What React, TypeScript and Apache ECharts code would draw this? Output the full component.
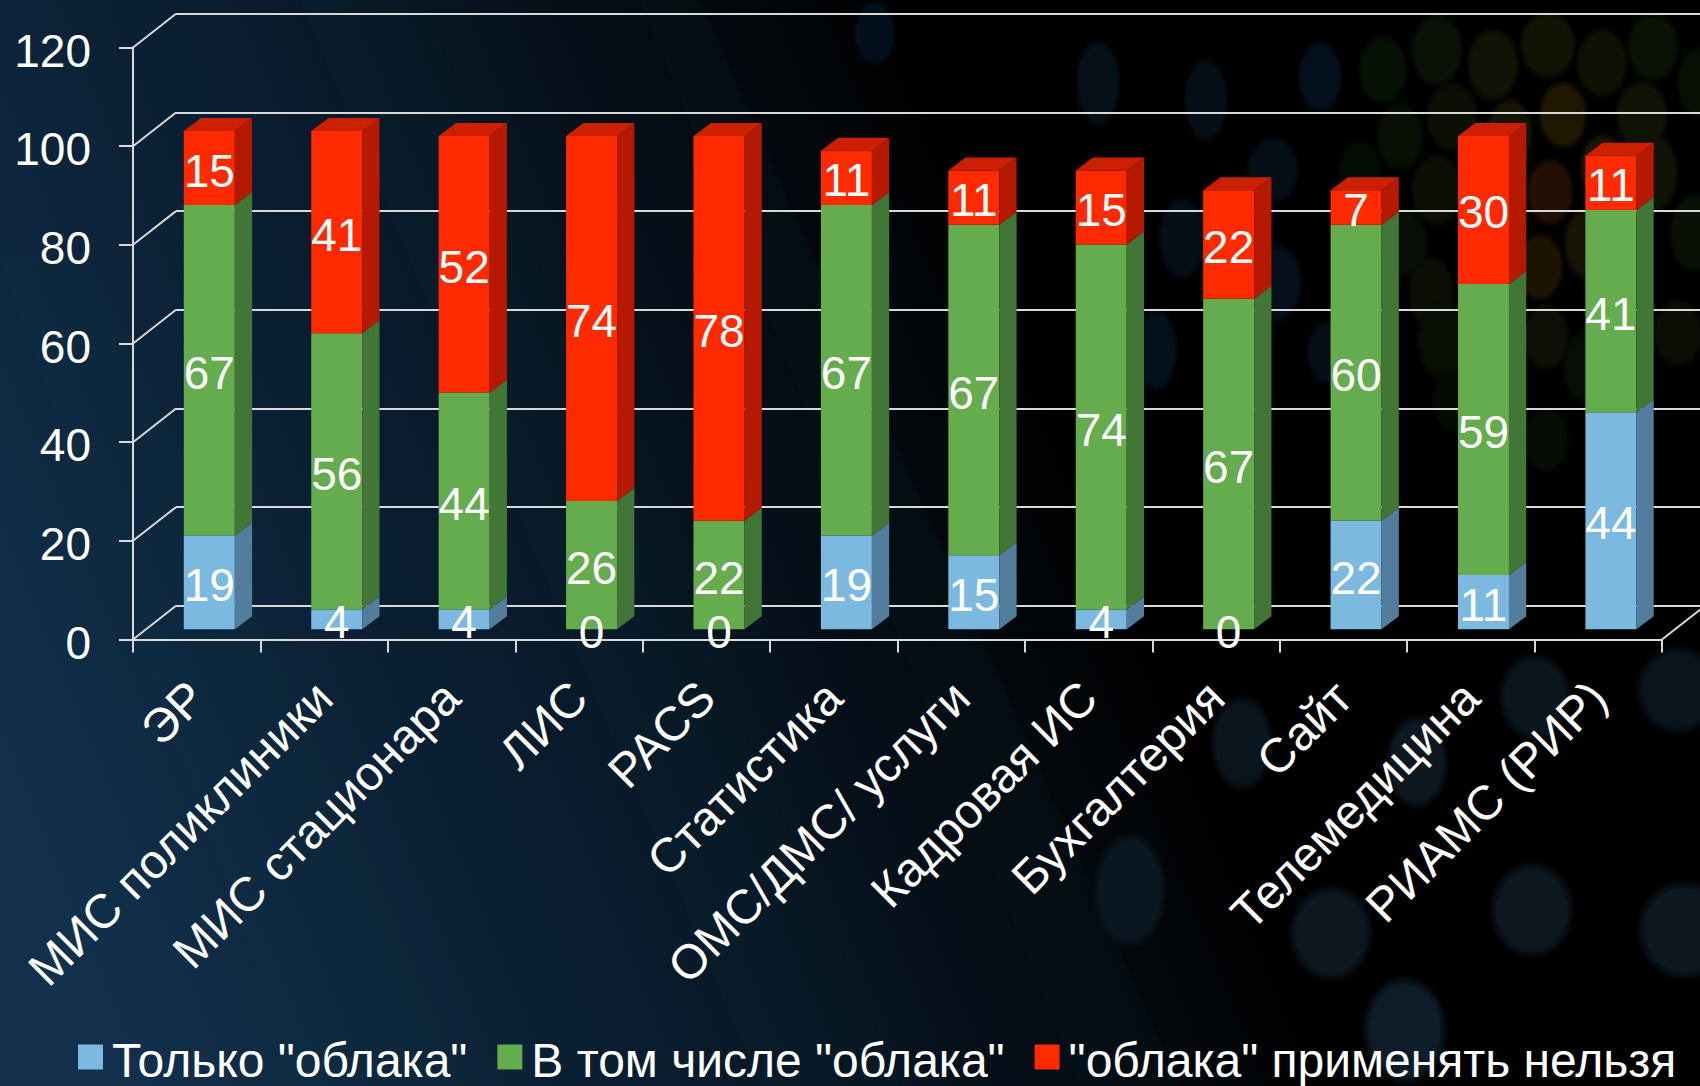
import React, { useEffect, useRef } from "react";
import * as echarts from "echarts";

const categories = ["ЭР", "МИС поликлиники", "МИС стационара", "ЛИС", "PACS", "Статистика", "ОМС/ДМС/ услуги", "Кадровая ИС", "Бухгалтерия", "Сайт", "Телемедицина", "РИАМС (РИР)"];
const onlyCloud = [19, 4, 4, 0, 0, 19, 15, 4, 0, 22, 11, 44];
const includingCloud = [67, 56, 44, 26, 22, 67, 67, 74, 67, 60, 59, 41];
const noCloud = [15, 41, 52, 74, 78, 11, 11, 15, 22, 7, 30, 11];
const yTicks = [0, 20, 40, 60, 80, 100, 120];
const seriesNames = ['Только "облака"', 'В том числе "облака"', '"облака" применять нельзя'];

const FONT = '"Liberation Sans", Arial, sans-serif';
const LINE = "#d9d9d9";
const palette = [
  { front: "#7cb9e0", side: "#527d9c" },
  { front: "#65ac4e", side: "#417636" },
  { front: "#ff2a00", side: "#b51a00", top: "#cc2000" },
];

// backdrop decoration: [cx, cy, rx, ry, colour]
const blobs: [number, number, number, number, string][] = [
  [875, 33, 22, 34, "#03101c"], [1098, 83, 24, 46, "#061018"], [1206, 100, 24, 44, "#050f18"], [1320, 77, 24, 38, "#04101c"],
  [1273, 170, 28, 36, "#050e16"], [1182, 238, 25, 44, "#050f18"], [1276, 283, 28, 42, "#06101a"], [1156, 350, 23, 44, "#04101c"], [1328, 353, 23, 34, "#050e16"],
  [1383, 70, 26, 37, "#051205"], [1437, 50, 28, 39, "#0a1106"], [1493, 65, 28, 39, "#101305"], [1548, 45, 30, 36, "#101405"], [1602, 63, 28, 37, "#0d1205"], [1653, 47, 28, 37, "#091205"], [1700, 83, 25, 39, "#080f05"],
  [1452, 117, 28, 37, "#0b0f06"], [1400, 137, 25, 37, "#080f05"], [1563, 115, 26, 36, "#201702"], [1642, 115, 28, 37, "#101406"], [1510, 133, 25, 37, "#161405"],
  [1550, 192, 25, 36, "#221006"], [1540, 267, 25, 36, "#1c1303"], [1603, 168, 25, 36, "#1c1705"], [1587, 243, 25, 39, "#161406"], [1437, 190, 28, 39, "#0b0f06"], [1360, 170, 23, 32, "#040d04"],
  [1403, 243, 27, 37, "#080f06"], [1653, 173, 27, 42, "#101406"], [1693, 233, 25, 42, "#0b1006"], [1431, 293, 25, 39, "#0b0f06"], [1546, 337, 25, 36, "#0c1006"], [1443, 340, 28, 44, "#080f05"], [1678, 333, 27, 36, "#0a0e05"], [1586, 367, 25, 39, "#080d05"], [1546, 440, 25, 34, "#050d05"], [1454, 400, 23, 34, "#050a03"],
  [1242, 743, 33, 50, "#0a141c"], [1130, 890, 38, 60, "#0b1720"], [1331, 933, 44, 50, "#0c1720"], [1417, 762, 33, 49, "#0c1720"], [1535, 697, 38, 46, "#0a141c"], [1678, 690, 44, 46, "#0a141c"], [1532, 910, 44, 50, "#0c1720"], [1684, 930, 49, 52, "#0c1720"], [1405, 1030, 44, 56, "#0d1c28"],
];
// backdrop decoration: streak polygons
const streaks: number[][][] = [
  [[0, 260], [90, 260], [480, 1086], [300, 1086]],
  [[300, 0], [420, 0], [900, 1086], [760, 1086]],
  [[640, 0], [700, 0], [1180, 1086], [1080, 1086]],
];

const stacks = [onlyCloud, includingCloud, noCloud];

function makeStack(stackIndex: number) {
  return categories.map((_, i) => {
    let base = 0;
    for (let s = 0; s < stackIndex; s++) base += stacks[s][i];
    return [i, base, stacks[stackIndex][i]];
  });
}

function barRender(stackIndex: number) {
  const pal = palette[stackIndex];
  return (params: any, api: any) => {
    const cat = api.value(0);
    const base = api.value(1);
    const val = api.value(2);
    const [cx, yb0] = api.coord([cat, base]);
    const [, yt0] = api.coord([cat, base + val]);
    const shiftX = 12.6, shiftY = -10.2, w = 51, dx = 17.3, dy = 13;
    const l = cx + shiftX - w / 2, r = l + w;
    const yb = yb0 + shiftY, yt = yt0 + shiftY;
    const children: any[] = [];
    if (val > 0) {
      children.push({ type: "rect", shape: { x: l, y: yt, width: w, height: yb - yt }, style: { fill: pal.front } });
      children.push({ type: "polygon", shape: { points: [[r, yt], [r + dx, yt - dy], [r + dx, yb - dy], [r, yb]] }, style: { fill: pal.side } });
      if (pal.top) children.push({ type: "polygon", shape: { points: [[l, yt], [l + dx, yt - dy], [r + dx, yt - dy], [r, yt]] }, style: { fill: pal.top } });
    }
    children.push({
      type: "text", z2: 200, x: l + w / 2, y: (yb + yt) / 2 + 2.5,
      style: { text: String(val), fill: "#fff", font: `46px ${FONT}`, align: "center", verticalAlign: "middle" },
    });
    return { type: "group", children };
  };
}

function wallRender(params: any, api: any) {
  const sys = params.coordSys;
  const y = api.coord([0, api.value(0)])[1];
  const ddx = 43, ddy = 33.7;
  const shape = { x1: sys.x, y1: y, x2: sys.x + ddx, y2: y - ddy };
  const lines: any[] = [{ type: "line", shape, style: { stroke: LINE, lineWidth: 2 } }];
  if (api.value(0) === 0) {
    lines.push({ type: "line", shape: { x1: sys.x + sys.width, y1: y, x2: sys.x + sys.width + ddx, y2: y - ddy }, style: { stroke: LINE, lineWidth: 2 } });
  }
  return { type: "group", children: lines };
}

function softFill(color: string) {
  return {
    type: "radial", x: 0.5, y: 0.5, r: 0.5,
    colorStops: [
      { offset: 0, color },
      { offset: 0.78, color },
      { offset: 1, color: color + "00" },
    ],
  };
}

export default function App() {
  const ref = useRef<HTMLDivElement>(null);
  useEffect(() => {
    document.body.style.margin = "0";
    document.body.style.background = "#000";
    const chart = echarts.init(ref.current!, undefined, { renderer: "svg" });
    chart.setOption({
      animation: false,
      textStyle: { fontFamily: FONT },
      graphic: [
        {
          type: "rect", z: -20, silent: true,
          shape: { x: 0, y: 0, width: 1700, height: 1086 },
          style: {
            fill: {
              type: "linear", x: 60, y: 900, x2: 1150, y2: 450, global: true,
              colorStops: [
                { offset: 0, color: "#12304c" },
                { offset: 0.3, color: "#0b2136" },
                { offset: 0.6, color: "#071421" },
                { offset: 0.95, color: "#000000" },
                { offset: 1, color: "#000000" },
              ],
            },
          },
        },
        ...streaks.map((pts) => ({ type: "polygon", z: -19, silent: true, shape: { points: pts }, style: { fill: "rgba(20,70,70,0.07)" } })),
        ...blobs.map(([cx, cy, rx, ry, color]) => ({ type: "ellipse", z: -18, silent: true, shape: { cx, cy, rx, ry }, style: { fill: softFill(color) } })),
      ],
      grid: [
        { left: 133, right: 38, top: 47.5, bottom: 446.5 },
        { left: 176, right: -5, top: 13.8, bottom: 480.2 },
      ],
      xAxis: [
        {
          type: "category", data: categories, gridIndex: 0,
          axisLine: { show: true, lineStyle: { color: LINE, width: 2 } },
          axisTick: { show: true, alignWithLabel: false, length: 13, lineStyle: { color: LINE, width: 2 } },
          axisLabel: { interval: 0, rotate: 45, color: "#fff", fontSize: 48, fontFamily: FONT, margin: 50 },
        },
        { type: "category", data: categories, gridIndex: 1, show: false },
      ],
      yAxis: [
        {
          type: "value", min: 0, max: 120, interval: 20, gridIndex: 0,
          axisLine: { show: true, lineStyle: { color: LINE, width: 2 } },
          axisTick: { show: true, length: 14, lineStyle: { color: LINE, width: 2 } },
          splitLine: { show: false },
          axisLabel: {
            color: "#fff", fontSize: 46, fontFamily: FONT, margin: 42,
            formatter: "{a|{value}}",
            rich: { a: { color: "#fff", fontSize: 46, fontFamily: FONT, padding: [6, 0, 0, 0] } },
          },
        },
        {
          type: "value", min: 0, max: 120, interval: 20, gridIndex: 1,
          axisLine: { show: false }, axisTick: { show: false }, axisLabel: { show: false },
          splitLine: { show: true, lineStyle: { color: LINE, width: 2 } },
        },
      ],
      legend: {
        left: 78, top: 1036, padding: 0, width: 1620, itemWidth: 25, itemHeight: 25, itemGap: 30,
        icon: "rect", data: seriesNames,
        formatter: (name: string) => `{a|${name}}`,
        textStyle: {
          color: "#fff", fontSize: 48, fontFamily: FONT,
          rich: { a: { color: "#fff", fontSize: 48, fontFamily: FONT, padding: [6, 0, 0, 4] } },
        },
      },
      series: [
        {
          type: "custom", name: "walls", xAxisIndex: 0, yAxisIndex: 0, z: 1, silent: true,
          data: yTicks.map((v) => [v]), encode: { y: 0 }, renderItem: wallRender,
        },
        ...seriesNames.map((name, s) => ({
          type: "custom", name, xAxisIndex: 0, yAxisIndex: 0, z: 3,
          itemStyle: { color: palette[s].front },
          data: makeStack(s), encode: { x: 0, y: 1 }, renderItem: barRender(s),
        })),
      ],
    });
    return () => chart.dispose();
  }, []);
  return <div ref={ref} style={{ width: 1700, height: 1086 }} />;
}
